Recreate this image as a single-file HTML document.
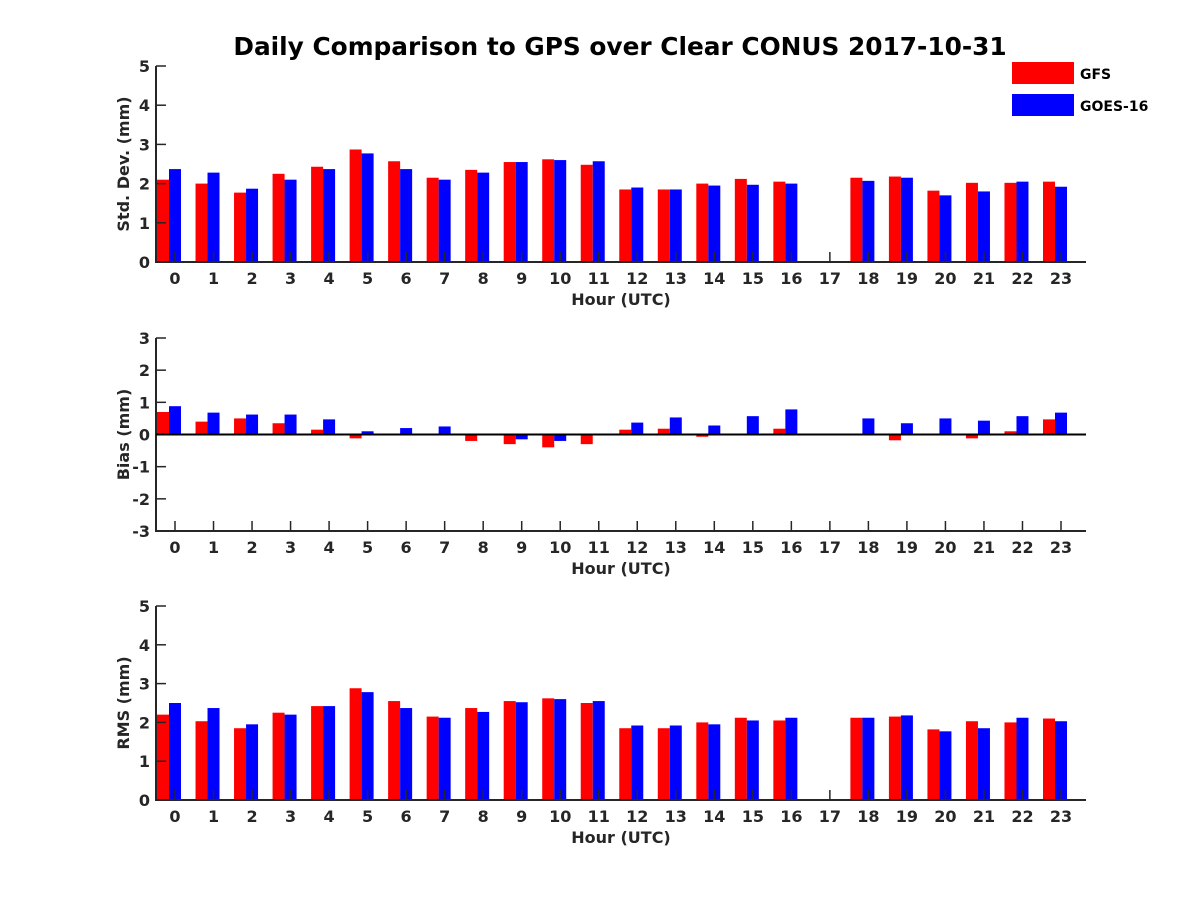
<!DOCTYPE html>
<html><head><meta charset="utf-8"><style>
body{margin:0;background:#fff;}
svg{display:block;font-family:"DejaVu Sans","Liberation Sans",sans-serif;font-weight:bold;}
</style></head><body>
<svg id="chart" width="1200" height="900">
<text x="620" y="55" text-anchor="middle" font-size="24.8" fill="#000">Daily Comparison to GPS over Clear CONUS 2017-10-31</text>
<g>
<rect x="1012" y="62" width="62" height="22" fill="#ff0000"/>
<text x="1080" y="79" font-size="14" fill="#000">GFS</text>
<rect x="1012" y="94" width="62" height="22" fill="#0000ff"/>
<text x="1080" y="111" font-size="14" fill="#000">GOES-16</text>
</g>
</svg>
<script>
const hours=[...Array(24).keys()];
const stdGFS=[2.1,2.0,1.77,2.25,2.43,2.87,2.57,2.15,2.35,2.55,2.62,2.48,1.85,1.85,2.0,2.12,2.05,null,2.15,2.18,1.82,2.02,2.02,2.05];
const stdGOES=[2.37,2.28,1.87,2.1,2.37,2.77,2.37,2.1,2.28,2.55,2.6,2.57,1.9,1.85,1.95,1.97,2.0,null,2.07,2.15,1.7,1.8,2.05,1.92];
const biasGFS=[0.7,0.4,0.5,0.35,0.15,-0.12,0.0,0.0,-0.2,-0.3,-0.4,-0.3,0.15,0.18,-0.07,0.02,0.18,null,0.0,-0.18,-0.03,-0.12,0.1,0.47];
const biasGOES=[0.88,0.68,0.62,0.62,0.47,0.1,0.2,0.25,0.0,-0.15,-0.2,-0.03,0.37,0.53,0.28,0.57,0.78,null,0.5,0.35,0.5,0.43,0.57,0.68];
const rmsGFS=[2.2,2.03,1.85,2.25,2.42,2.88,2.55,2.15,2.37,2.55,2.62,2.5,1.85,1.85,2.0,2.12,2.05,null,2.12,2.15,1.82,2.03,2.0,2.1];
const rmsGOES=[2.5,2.37,1.95,2.2,2.42,2.78,2.37,2.12,2.27,2.52,2.6,2.55,1.92,1.92,1.95,2.05,2.12,null,2.12,2.18,1.77,1.85,2.12,2.03];
const stdTicks=[0,1,2,3,4,5];
const biasTicks=[-3,-2,-1,0,1,2,3];
const rmsTicks=[0,1,2,3,4,5];

const svg=document.getElementById('chart');
const NS='http://www.w3.org/2000/svg';
const X0=156,X1=1086;
function xs(h){return 175+h*(1061-175)/23;}
function mk(tag,attrs,parent){const e=document.createElementNS(NS,tag);for(const k in attrs)e.setAttribute(k,attrs[k]);(parent||svg).appendChild(e);return e;}

function panel(name,top,bot,ymin,ymax,ticks,a,b,ylabel){
  const g=mk('g',{});
  
  
  const ys=v=>bot-(v-ymin)/(ymax-ymin)*(bot-top);
  const base=ys(Math.max(ymin,0));
  hours.forEach(h=>{
    const c=xs(h);
    [[a,'#ff0000',-18,'gfs'],[b,'#0000ff',-6,'goes']].forEach(([arr,col,off,s])=>{
      const v=arr[h]; if(v===null)return;
      const y1=ys(v),y=Math.min(y1,base),hh=Math.abs(y1-base);
      const r=mk('rect',{x:c+off,y:y,width:12,height:Math.max(hh,0.01),fill:col},g);
      
      
    });
    const t=mk('line',{x1:c,x2:c,y1:bot,y2:bot-10,stroke:'#262626','stroke-width':1.5},g);
    
    
    const l=mk('text',{x:c,y:bot+22,'text-anchor':'middle','font-size':16,fill:'#262626'},g);
    l.textContent=h;
    
    
  });
  ticks.forEach(v=>{
    const y=ys(v);
    const t=mk('line',{x1:X0,x2:X0+10,y1:y,y2:y,stroke:'#262626','stroke-width':1.5},g);
    
    
    const l=mk('text',{x:X0-6,y:y+6,'text-anchor':'end','font-size':16,fill:'#262626'},g);
    l.textContent=v;
    
    
  });
  const ax=mk('path',{d:`M${X0},${top}V${bot}H${X1}`,fill:'none',stroke:'#262626','stroke-width':2},g);
  
  
  if(ymin<0){
    const z=mk('line',{x1:X0,x2:X1,y1:ys(0),y2:ys(0),stroke:'#000','stroke-width':2},g);
    
    
  }
  const xl=mk('text',{x:621,y:bot+43,'text-anchor':'middle','font-size':16,fill:'#262626'},g);
  xl.textContent='Hour (UTC)';
  
  
  const cy=(top+bot)/2;
  const yl=mk('text',{x:0,y:0,'text-anchor':'middle','font-size':16,fill:'#262626',transform:`translate(129,${cy}) rotate(-90)`},g);
  yl.textContent=ylabel;
  
  
}
panel('std',66,262,0,5,stdTicks,stdGFS,stdGOES,'Std. Dev. (mm)');
panel('bias',338,531,-3,3,biasTicks,biasGFS,biasGOES,'Bias (mm)');
panel('rms',606,800,0,5,rmsTicks,rmsGFS,rmsGOES,'RMS (mm)');
</script>
</body></html>
